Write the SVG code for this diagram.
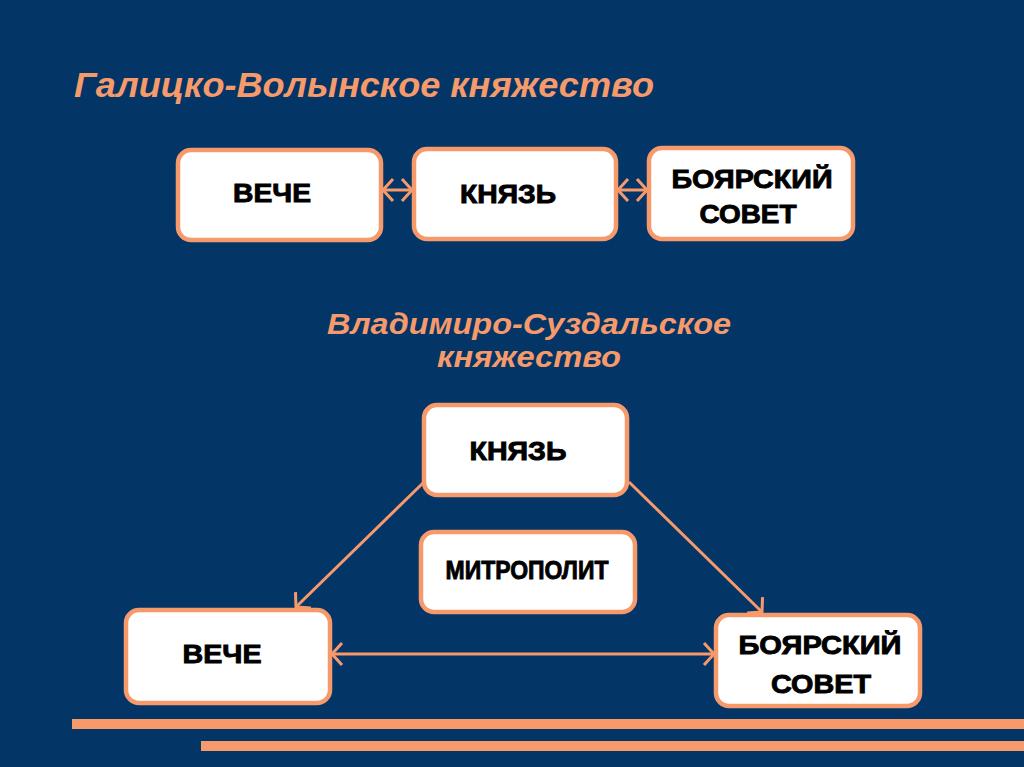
<svg xmlns="http://www.w3.org/2000/svg" width="1024" height="767" viewBox="0 0 1024 767">
<style>
.box{fill:#ffffff;stroke:#f79a6b;stroke-width:4.5}
.lbl{font-family:"Liberation Sans",Arial,sans-serif;font-weight:bold;fill:#000000;stroke:#000000;stroke-width:0.9;text-anchor:middle;font-size:26px}
.ttl{font-family:"Liberation Sans",Arial,sans-serif;font-weight:bold;font-style:italic;fill:#f79a6b}
.con{stroke:#f79a6b;stroke-width:3;fill:none}
</style>
<defs>
<marker id="ah" markerUnits="userSpaceOnUse" viewBox="-14 -14 16 28" markerWidth="16" markerHeight="28" refX="0" refY="0" orient="auto-start-reverse">
<path d="M-10,-11 L0,0 L-10,11" fill="none" stroke="#f79a6b" stroke-width="3"/>
</marker>
</defs>
<rect x="0" y="0" width="1024" height="767" fill="#033567"/>
<text class="ttl" x="74" y="97" font-size="35" textLength="580" lengthAdjust="spacingAndGlyphs">Галицко-Волынское княжество</text>
<text class="ttl" x="529" y="334" font-size="30" text-anchor="middle" textLength="404" lengthAdjust="spacingAndGlyphs">Владимиро-Суздальское</text>
<text class="ttl" x="529" y="367" font-size="30" text-anchor="middle" textLength="184" lengthAdjust="spacingAndGlyphs">княжество</text>
<g id="connectors">
<line class="con" x1="383" y1="190" x2="412" y2="190" marker-start="url(#ah)" marker-end="url(#ah)"/>
<line class="con" x1="618" y1="190" x2="647" y2="190" marker-start="url(#ah)" marker-end="url(#ah)"/>
<line class="con" x1="424" y1="482" x2="296" y2="607" marker-end="url(#ah)"/>
<line class="con" x1="629" y1="482" x2="762" y2="612" marker-end="url(#ah)"/>
<line class="con" x1="332" y1="654" x2="714" y2="654" marker-start="url(#ah)" marker-end="url(#ah)"/>
</g>
<g id="n-veche1"><rect class="box" x="178" y="150" width="203" height="90" rx="13"/><text class="lbl" x="272" y="202" textLength="78" lengthAdjust="spacingAndGlyphs">ВЕЧЕ</text></g>
<g id="n-knyaz1"><rect class="box" x="414" y="149" width="202" height="90" rx="13"/><text class="lbl" x="508" y="203" textLength="96" lengthAdjust="spacingAndGlyphs">КНЯЗЬ</text></g>
<g id="n-boyar1"><rect class="box" x="649" y="148" width="204" height="91" rx="13"/><text class="lbl" x="752" y="188" textLength="161" lengthAdjust="spacingAndGlyphs">БОЯРСКИЙ</text><text class="lbl" x="748" y="223" textLength="97" lengthAdjust="spacingAndGlyphs">СОВЕТ</text></g>
<g id="n-knyaz2"><rect class="box" x="424" y="405" width="203" height="90" rx="13"/><text class="lbl" x="518" y="460" textLength="97" lengthAdjust="spacingAndGlyphs">КНЯЗЬ</text></g>
<g id="n-mitropolit"><rect class="box" x="421" y="532" width="214" height="80" rx="13"/><text class="lbl" x="527" y="579" font-size="20" textLength="163" lengthAdjust="spacingAndGlyphs">МИТРОПОЛИТ</text></g>
<g id="n-veche2"><rect class="box" x="126" y="610" width="204" height="93" rx="13"/><text class="lbl" x="222" y="663" font-size="27" textLength="79" lengthAdjust="spacingAndGlyphs">ВЕЧЕ</text></g>
<g id="n-boyar2"><rect class="box" x="716" y="615" width="204" height="91" rx="13"/><text class="lbl" x="820" y="654" font-size="27" textLength="163" lengthAdjust="spacingAndGlyphs">БОЯРСКИЙ</text><text class="lbl" x="821" y="693" font-size="27" textLength="100" lengthAdjust="spacingAndGlyphs">СОВЕТ</text></g>
<rect x="72" y="719" width="952" height="10" fill="#f79a6b"/>
<rect x="201" y="741" width="823" height="10" fill="#f79a6b"/>
</svg>
